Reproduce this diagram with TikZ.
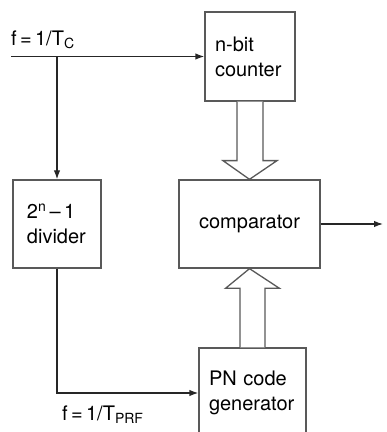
\documentclass[tikz,border=0pt]{standalone}
\usepackage{fontspec}
\setmainfont{TeX Gyre Heros}
\usetikzlibrary{arrows.meta,calc,positioning}

\begin{document}
\begin{tikzpicture}[x=1pt,y=1pt,line cap=butt,line join=miter,
  block/.style={draw=black!65,line width=1.3pt,fill=white,inner sep=0pt,
    font=\fontsize{20}{25}\selectfont},
  wire/.style={draw=black!85,line width=1.3pt,-{Latex[length=9pt,width=6.5pt]}},
  fat/.style={draw=black!65,line width=1.3pt,fill=white},
  freq/.style={anchor=base west,inner sep=0pt,font=\fontsize{20}{23}\selectfont}]

\useasboundingbox (0,0) rectangle (387,432);
\clip (0,0) rectangle (387,432);

% Blocks.
\node[block,minimum width=90,minimum height=89,align=left,text width=70] (cnt)
  at (250,375.5) {n-bit\\counter};
\node[block,minimum width=88,minimum height=88,align=left,text width=60] (div)
  at (57,208) {2\textsuperscript{n}\,--\,1\\divider};
\node[block,minimum width=141,minimum height=88] (cmp) at (249.5,208) {comparator};
\node[block,minimum width=107,minimum height=90,align=left,text width=87] (pn)
  at (252.5,39) {PN code\\generator};

% Clock input and its branch to the divider.
\coordinate (in) at (11,375.5);
\coordinate (tap) at (div.north |- in);
\draw[wire] (in) -- (cnt.west);
\draw[wire] (tap) -- (div.north);
\node[freq] (fc) at ($(in)+(0,11)$) {f\,=\,1/T\textsubscript{C}};

% Divider output to PN generator.
\draw[wire] (div.south) |- (pn.west);
\node[freq] (fprf) at (62,12) {f\,=\,1/T\textsubscript{PRF}};

% Comparator output.
\coordinate (out) at (383,208);
\draw[wire] (cmp.east) -- (out);

% Hollow bus arrows.
\draw[fat] ($(cnt.south)+(-13,0)$) -- ++(0,-59) -- ++(-14,0) -- (cmp.north)
  -- ($(cnt.south)+(27,-59)$) -- ++(-14,0) -- ($(cnt.south)+(13,0)$);
\draw[fat] ($(pn.north)+(-12.5,0)$) -- ++(0,59) -- ++(-14.5,0) -- (cmp.south)
  -- ($(pn.north)+(27,59)$) -- ++(-14.5,0) -- ($(pn.north)+(12.5,0)$);

\end{tikzpicture}
\end{document}
